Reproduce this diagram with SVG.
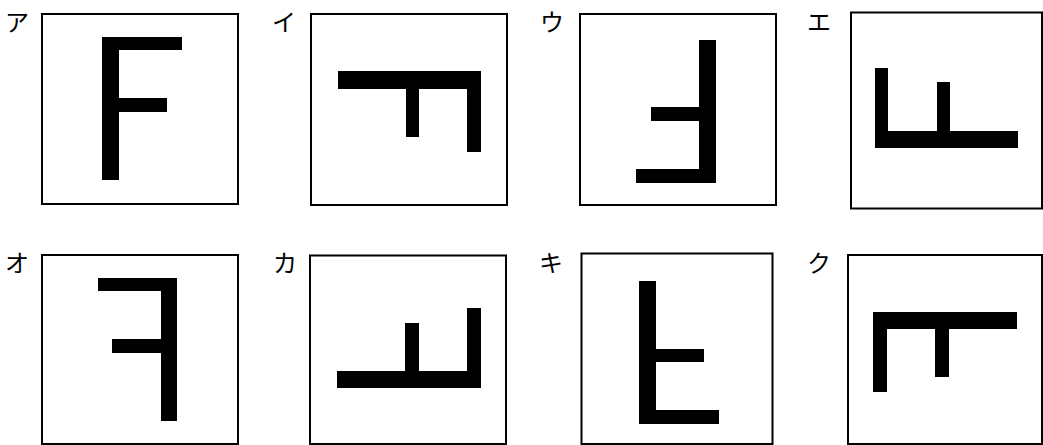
<svg xmlns="http://www.w3.org/2000/svg" width="1043" height="445" viewBox="0 0 1043 445">
<style>
.box{fill:#fff;stroke:#000;stroke-width:2}
.fig{fill:#000}
.lbl{font-family:"Noto Sans CJK JP","Noto Sans",sans-serif;font-size:24px;fill:#000}
</style>
<rect width="1043" height="445" fill="#fff"/>
<g id="a">
<text class="lbl" x="5" y="31">ア</text>
<rect class="box" x="42" y="14" width="196" height="190"/>
<path class="fig" d="M102 37H182V50H119V98H167V112H119V180H102Z"/>
</g>
<g id="i">
<text class="lbl" x="272" y="31">イ</text>
<rect class="box" x="311" y="14" width="196" height="191"/>
<path class="fig" d="M338 71H481V152H467V89H419V137H406V89H338Z"/>
</g>
<g id="u">
<text class="lbl" x="540" y="31">ウ</text>
<rect class="box" x="580" y="14" width="196" height="191"/>
<path class="fig" d="M699 40H716V183H636V169H699V121H651V107H699Z"/>
</g>
<g id="e">
<text class="lbl" x="807" y="31">エ</text>
<rect class="box" x="851" y="12.5" width="191" height="196"/>
<path class="fig" d="M875 68H888V131H937V82H950V131H1018V148H875Z"/>
</g>
<g id="o">
<text class="lbl" x="5" y="272">オ</text>
<rect class="box" x="42" y="255" width="196" height="189"/>
<path class="fig" d="M98 278H177V421H161V353H112V339H161V291H98Z"/>
</g>
<g id="ka">
<text class="lbl" x="273" y="272">カ</text>
<rect class="box" x="310" y="255.5" width="196" height="188.5"/>
<path class="fig" d="M467 308H481V388H337V371H405V323H419V371H467Z"/>
</g>
<g id="ki">
<text class="lbl" x="539" y="272">キ</text>
<rect class="box" x="581.5" y="253.5" width="191" height="190.5"/>
<path class="fig" d="M639 281H656V349H704V362H656V410H719V424H639Z"/>
</g>
<g id="ku">
<text class="lbl" x="807" y="272">ク</text>
<rect class="box" x="848" y="255" width="194" height="189"/>
<path class="fig" d="M873 312H1017V329H949V377H935V329H887V392H873Z"/>
</g>
</svg>
